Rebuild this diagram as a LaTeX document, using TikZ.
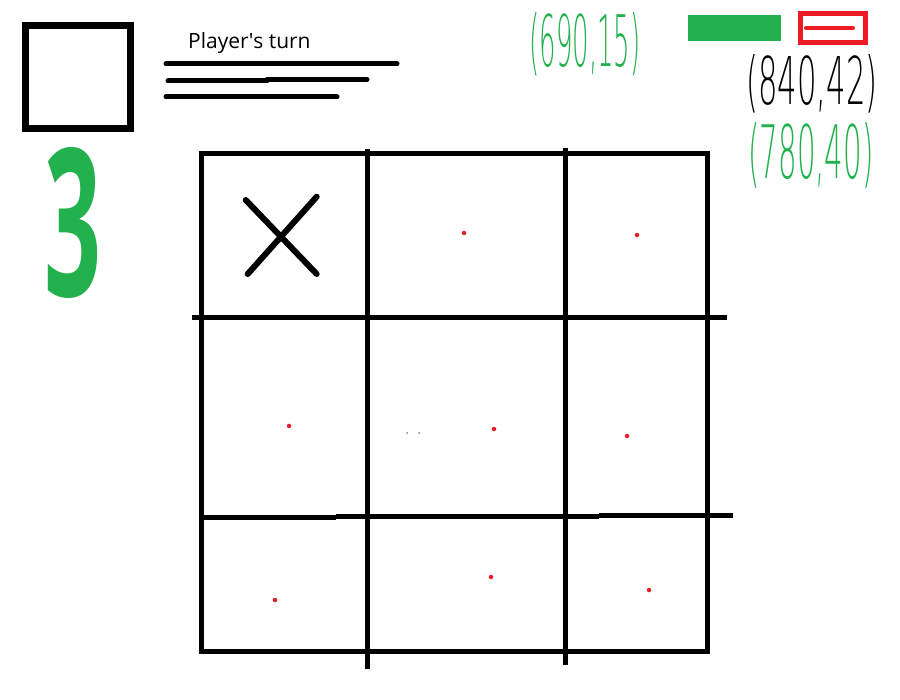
\documentclass[tikz,border=0pt]{standalone}
\usepackage{fontspec}
\setmainfont{Open Sans}
\newfontfamily\scrawl{DejaVu Sans ExtraLight}
\definecolor{paintgreen}{RGB}{34,177,76}
\definecolor{paintred}{RGB}{237,28,36}

\begin{document}
\begin{tikzpicture}[x=1pt,y=-1pt,
    gridline/.style={line width=5pt},
    pen/.style={line width=5pt, line cap=round},
    marker/.style={circle, fill=paintred, inner sep=0pt, minimum size=4.5pt},
    speck/.style={circle, fill=gray, inner sep=0pt, minimum size=2pt},
    scribble/.style={inner sep=0pt, font=\scrawl}]
    \useasboundingbox (0,0) rectangle (900,700);

    % player box and caption
    \draw[line width=7pt] (25.5,26) rectangle (130.5,128.5);
    \node[anchor=base west, inner sep=0pt, font=\fontsize{21}{24}\selectfont] (turn) at (188,49) {Player\textquotesingle s turn};
    \draw[pen] (166,64) -- (397,64);
    \draw[pen] (168,81) -- (267,81);
    \draw[pen] (267,79.5) -- (367,79.5);
    \draw[pen] (166,97) -- (337,97);

    % big counter
    \node[inner sep=0pt, text=paintgreen] (count) at (73.5,222.5) {\resizebox{57pt}{149pt}{\bfseries 3}};

    % window buttons
    \fill[paintgreen] (688,15) rectangle (781,41);
    \draw[paintred, line width=5pt] (800.5,13.5) rectangle (865.5,42.5);
    \draw[paintred, line width=4pt, line cap=round] (806,28) -- (853,28);

    % scribbled coordinates
    \node[scribble, text=paintgreen] (pos1) at (585,44) {\resizebox{111pt}{54pt}{(690,15)}};
    \node[scribble, text=black] (pos2) at (812,84) {\resizebox{131pt}{50pt}{(840,42)}};
    \node[scribble, text=paintgreen] (pos3) at (811,155) {\resizebox{125pt}{56pt}{(780,40)}};

    % board
    \draw[gridline] (201.5,153.3) rectangle (707.3,651.3);
    \draw[gridline] (367.5,149) -- (367.5,669);
    \draw[gridline] (565.3,148) -- (565.3,665);
    \draw[gridline] (191.7,317.3) -- (726.7,317.3);
    \draw[gridline] (201,517.3) -- (335.7,517.3);
    \draw[gridline] (335.7,516.3) -- (599.3,516.3);
    \draw[gridline] (599.3,515) -- (733.3,515);

    % cross in first cell
    \draw[pen, line width=6pt] (245.7,200) -- (316.7,274);
    \draw[pen, line width=6pt] (316.7,196.7) -- (247.7,274);

    % cell centres
    \node[marker] (c12) at (464,233) {};
    \node[marker] (c13) at (637,235) {};
    \node[marker] (c21) at (289,426) {};
    \node[marker] (c22) at (494,429) {};
    \node[marker] (c23) at (627,436) {};
    \node[marker] (c31) at (275,600) {};
    \node[marker] (c32) at (491,577) {};
    \node[marker] (c33) at (649,590) {};
    \node[speck] (s1) at (407,433) {};
    \node[speck] (s2) at (419,433) {};
\end{tikzpicture}
\end{document}
